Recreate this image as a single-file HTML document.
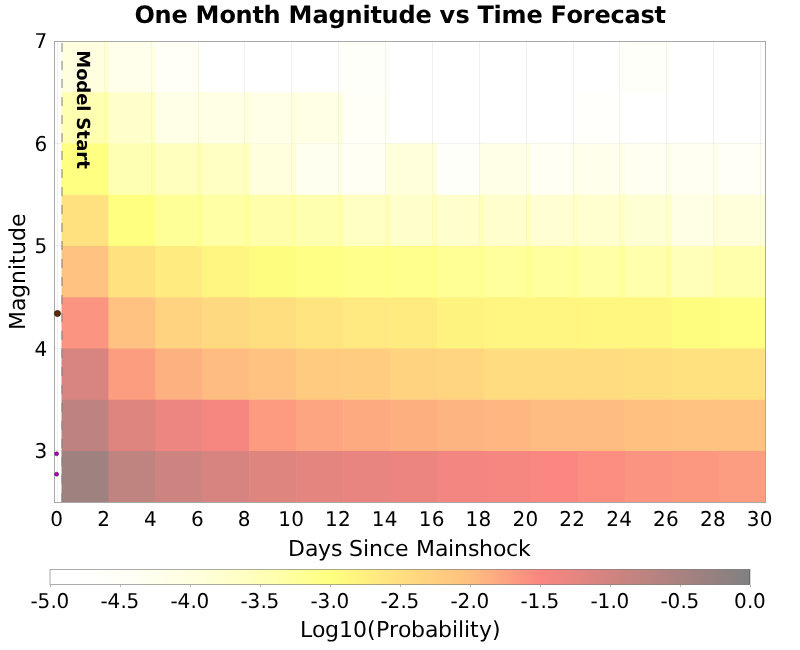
<!DOCTYPE html>
<html lang="en"><head><meta charset="utf-8"><title>One Month Magnitude vs Time Forecast</title>
<style>html,body{margin:0;padding:0;background:#fff}svg{display:block}text{font-family:'DejaVu Sans','Liberation Sans',sans-serif;fill:#000;white-space:pre;text-rendering:geometricPrecision}</style></head><body>
<svg width="800" height="650" viewBox="0 0 800 650">
<rect width="800" height="650" fill="#fff"/>
<g id="heat">
<rect x="61.50" y="41.00" width="47.53" height="51.85" fill="#ffffdf"/>
<rect x="108.43" y="41.00" width="47.53" height="51.85" fill="#ffffeb"/>
<rect x="155.36" y="41.00" width="47.53" height="51.85" fill="#fffff5"/>
<rect x="202.29" y="41.00" width="47.53" height="51.85" fill="#ffffff"/>
<rect x="249.22" y="41.00" width="47.53" height="51.85" fill="#ffffff"/>
<rect x="296.15" y="41.00" width="47.53" height="51.85" fill="#ffffff"/>
<rect x="343.08" y="41.00" width="47.53" height="51.85" fill="#fffff9"/>
<rect x="390.01" y="41.00" width="47.53" height="51.85" fill="#ffffff"/>
<rect x="436.94" y="41.00" width="47.53" height="51.85" fill="#ffffff"/>
<rect x="483.87" y="41.00" width="47.53" height="51.85" fill="#ffffff"/>
<rect x="530.80" y="41.00" width="47.53" height="51.85" fill="#ffffff"/>
<rect x="577.73" y="41.00" width="47.53" height="51.85" fill="#ffffff"/>
<rect x="624.66" y="41.00" width="47.53" height="51.85" fill="#fffffa"/>
<rect x="671.59" y="41.00" width="47.53" height="51.85" fill="#ffffff"/>
<rect x="718.52" y="41.00" width="46.48" height="51.85" fill="#ffffff"/>
<rect x="61.50" y="92.25" width="47.53" height="51.85" fill="#ffffb2"/>
<rect x="108.43" y="92.25" width="47.53" height="51.85" fill="#ffffcc"/>
<rect x="155.36" y="92.25" width="47.53" height="51.85" fill="#ffffe8"/>
<rect x="202.29" y="92.25" width="47.53" height="51.85" fill="#ffffe6"/>
<rect x="249.22" y="92.25" width="47.53" height="51.85" fill="#ffffe8"/>
<rect x="296.15" y="92.25" width="47.53" height="51.85" fill="#ffffe6"/>
<rect x="343.08" y="92.25" width="47.53" height="51.85" fill="#fffff5"/>
<rect x="390.01" y="92.25" width="47.53" height="51.85" fill="#ffffff"/>
<rect x="436.94" y="92.25" width="47.53" height="51.85" fill="#ffffff"/>
<rect x="483.87" y="92.25" width="47.53" height="51.85" fill="#ffffff"/>
<rect x="530.80" y="92.25" width="47.53" height="51.85" fill="#ffffff"/>
<rect x="577.73" y="92.25" width="47.53" height="51.85" fill="#fffffb"/>
<rect x="624.66" y="92.25" width="47.53" height="51.85" fill="#ffffff"/>
<rect x="671.59" y="92.25" width="47.53" height="51.85" fill="#ffffff"/>
<rect x="718.52" y="92.25" width="46.48" height="51.85" fill="#ffffff"/>
<rect x="61.50" y="143.50" width="47.53" height="51.85" fill="#ffff82"/>
<rect x="108.43" y="143.50" width="47.53" height="51.85" fill="#ffffb4"/>
<rect x="155.36" y="143.50" width="47.53" height="51.85" fill="#ffffbe"/>
<rect x="202.29" y="143.50" width="47.53" height="51.85" fill="#ffffc3"/>
<rect x="249.22" y="143.50" width="47.53" height="51.85" fill="#ffffde"/>
<rect x="296.15" y="143.50" width="47.53" height="51.85" fill="#fffff0"/>
<rect x="343.08" y="143.50" width="47.53" height="51.85" fill="#fffff3"/>
<rect x="390.01" y="143.50" width="47.53" height="51.85" fill="#ffffdc"/>
<rect x="436.94" y="143.50" width="47.53" height="51.85" fill="#fffffa"/>
<rect x="483.87" y="143.50" width="47.53" height="51.85" fill="#ffffe7"/>
<rect x="530.80" y="143.50" width="47.53" height="51.85" fill="#fffff4"/>
<rect x="577.73" y="143.50" width="47.53" height="51.85" fill="#ffffeb"/>
<rect x="624.66" y="143.50" width="47.53" height="51.85" fill="#fffff2"/>
<rect x="671.59" y="143.50" width="47.53" height="51.85" fill="#fffff2"/>
<rect x="718.52" y="143.50" width="46.48" height="51.85" fill="#fffff5"/>
<rect x="61.50" y="194.75" width="47.53" height="51.85" fill="#ffe180"/>
<rect x="108.43" y="194.75" width="47.53" height="51.85" fill="#ffff80"/>
<rect x="155.36" y="194.75" width="47.53" height="51.85" fill="#ffff97"/>
<rect x="202.29" y="194.75" width="47.53" height="51.85" fill="#ffffa6"/>
<rect x="249.22" y="194.75" width="47.53" height="51.85" fill="#ffffab"/>
<rect x="296.15" y="194.75" width="47.53" height="51.85" fill="#ffffb0"/>
<rect x="343.08" y="194.75" width="47.53" height="51.85" fill="#ffffc3"/>
<rect x="390.01" y="194.75" width="47.53" height="51.85" fill="#ffffcc"/>
<rect x="436.94" y="194.75" width="47.53" height="51.85" fill="#ffffcd"/>
<rect x="483.87" y="194.75" width="47.53" height="51.85" fill="#ffffcd"/>
<rect x="530.80" y="194.75" width="47.53" height="51.85" fill="#ffffd2"/>
<rect x="577.73" y="194.75" width="47.53" height="51.85" fill="#ffffd0"/>
<rect x="624.66" y="194.75" width="47.53" height="51.85" fill="#ffffd4"/>
<rect x="671.59" y="194.75" width="47.53" height="51.85" fill="#ffffe4"/>
<rect x="718.52" y="194.75" width="46.48" height="51.85" fill="#ffffdc"/>
<rect x="61.50" y="246.00" width="47.53" height="51.85" fill="#ffc280"/>
<rect x="108.43" y="246.00" width="47.53" height="51.85" fill="#ffe280"/>
<rect x="155.36" y="246.00" width="47.53" height="51.85" fill="#ffeb80"/>
<rect x="202.29" y="246.00" width="47.53" height="51.85" fill="#fff580"/>
<rect x="249.22" y="246.00" width="47.53" height="51.85" fill="#fffd80"/>
<rect x="296.15" y="246.00" width="47.53" height="51.85" fill="#ffff85"/>
<rect x="343.08" y="246.00" width="47.53" height="51.85" fill="#ffff8b"/>
<rect x="390.01" y="246.00" width="47.53" height="51.85" fill="#ffff8e"/>
<rect x="436.94" y="246.00" width="47.53" height="51.85" fill="#ffff96"/>
<rect x="483.87" y="246.00" width="47.53" height="51.85" fill="#ffff9b"/>
<rect x="530.80" y="246.00" width="47.53" height="51.85" fill="#ffff9e"/>
<rect x="577.73" y="246.00" width="47.53" height="51.85" fill="#ffffa5"/>
<rect x="624.66" y="246.00" width="47.53" height="51.85" fill="#ffffac"/>
<rect x="671.59" y="246.00" width="47.53" height="51.85" fill="#ffffb9"/>
<rect x="718.52" y="246.00" width="46.48" height="51.85" fill="#ffffac"/>
<rect x="61.50" y="297.25" width="47.53" height="51.85" fill="#fb9480"/>
<rect x="108.43" y="297.25" width="47.53" height="51.85" fill="#ffc280"/>
<rect x="155.36" y="297.25" width="47.53" height="51.85" fill="#ffd380"/>
<rect x="202.29" y="297.25" width="47.53" height="51.85" fill="#ffd980"/>
<rect x="249.22" y="297.25" width="47.53" height="51.85" fill="#ffde80"/>
<rect x="296.15" y="297.25" width="47.53" height="51.85" fill="#ffe480"/>
<rect x="343.08" y="297.25" width="47.53" height="51.85" fill="#ffe980"/>
<rect x="390.01" y="297.25" width="47.53" height="51.85" fill="#ffeb80"/>
<rect x="436.94" y="297.25" width="47.53" height="51.85" fill="#fff380"/>
<rect x="483.87" y="297.25" width="47.53" height="51.85" fill="#fff580"/>
<rect x="530.80" y="297.25" width="47.53" height="51.85" fill="#fff580"/>
<rect x="577.73" y="297.25" width="47.53" height="51.85" fill="#fff780"/>
<rect x="624.66" y="297.25" width="47.53" height="51.85" fill="#fff780"/>
<rect x="671.59" y="297.25" width="47.53" height="51.85" fill="#fffd80"/>
<rect x="718.52" y="297.25" width="46.48" height="51.85" fill="#ffff83"/>
<rect x="61.50" y="348.50" width="47.53" height="51.85" fill="#d88480"/>
<rect x="108.43" y="348.50" width="47.53" height="51.85" fill="#fc9d80"/>
<rect x="155.36" y="348.50" width="47.53" height="51.85" fill="#feb180"/>
<rect x="202.29" y="348.50" width="47.53" height="51.85" fill="#ffbc80"/>
<rect x="249.22" y="348.50" width="47.53" height="51.85" fill="#ffc280"/>
<rect x="296.15" y="348.50" width="47.53" height="51.85" fill="#ffcb80"/>
<rect x="343.08" y="348.50" width="47.53" height="51.85" fill="#ffcd80"/>
<rect x="390.01" y="348.50" width="47.53" height="51.85" fill="#ffd380"/>
<rect x="436.94" y="348.50" width="47.53" height="51.85" fill="#ffd580"/>
<rect x="483.87" y="348.50" width="47.53" height="51.85" fill="#ffdc80"/>
<rect x="530.80" y="348.50" width="47.53" height="51.85" fill="#ffdc80"/>
<rect x="577.73" y="348.50" width="47.53" height="51.85" fill="#ffdc80"/>
<rect x="624.66" y="348.50" width="47.53" height="51.85" fill="#ffde80"/>
<rect x="671.59" y="348.50" width="47.53" height="51.85" fill="#ffe180"/>
<rect x="718.52" y="348.50" width="46.48" height="51.85" fill="#ffe180"/>
<rect x="61.50" y="399.75" width="47.53" height="51.85" fill="#be8380"/>
<rect x="108.43" y="399.75" width="47.53" height="51.85" fill="#de8580"/>
<rect x="155.36" y="399.75" width="47.53" height="51.85" fill="#ed8580"/>
<rect x="202.29" y="399.75" width="47.53" height="51.85" fill="#f68680"/>
<rect x="249.22" y="399.75" width="47.53" height="51.85" fill="#fc9b80"/>
<rect x="296.15" y="399.75" width="47.53" height="51.85" fill="#fda580"/>
<rect x="343.08" y="399.75" width="47.53" height="51.85" fill="#fdaa80"/>
<rect x="390.01" y="399.75" width="47.53" height="51.85" fill="#feaf80"/>
<rect x="436.94" y="399.75" width="47.53" height="51.85" fill="#feb480"/>
<rect x="483.87" y="399.75" width="47.53" height="51.85" fill="#feb780"/>
<rect x="530.80" y="399.75" width="47.53" height="51.85" fill="#ffbc80"/>
<rect x="577.73" y="399.75" width="47.53" height="51.85" fill="#ffbc80"/>
<rect x="624.66" y="399.75" width="47.53" height="51.85" fill="#ffc080"/>
<rect x="671.59" y="399.75" width="47.53" height="51.85" fill="#ffc280"/>
<rect x="718.52" y="399.75" width="46.48" height="51.85" fill="#ffc280"/>
<rect x="61.50" y="451.00" width="47.53" height="51.00" fill="#9f8280"/>
<rect x="108.43" y="451.00" width="47.53" height="51.00" fill="#bf8380"/>
<rect x="155.36" y="451.00" width="47.53" height="51.00" fill="#cd8480"/>
<rect x="202.29" y="451.00" width="47.53" height="51.00" fill="#d78480"/>
<rect x="249.22" y="451.00" width="47.53" height="51.00" fill="#de8580"/>
<rect x="296.15" y="451.00" width="47.53" height="51.00" fill="#e48580"/>
<rect x="343.08" y="451.00" width="47.53" height="51.00" fill="#e88580"/>
<rect x="390.01" y="451.00" width="47.53" height="51.00" fill="#ec8580"/>
<rect x="436.94" y="451.00" width="47.53" height="51.00" fill="#f38680"/>
<rect x="483.87" y="451.00" width="47.53" height="51.00" fill="#f68680"/>
<rect x="530.80" y="451.00" width="47.53" height="51.00" fill="#fa8780"/>
<rect x="577.73" y="451.00" width="47.53" height="51.00" fill="#fb8e80"/>
<rect x="624.66" y="451.00" width="47.53" height="51.00" fill="#fb9480"/>
<rect x="671.59" y="451.00" width="47.53" height="51.00" fill="#fc9880"/>
<rect x="718.52" y="451.00" width="46.48" height="51.00" fill="#fc9c80"/>
<rect x="104.13" y="41.00" width="4.30" height="51.85" fill="#ffffd5"/>
<rect x="151.06" y="41.00" width="4.30" height="51.85" fill="#ffffe5"/>
<rect x="338.78" y="41.00" width="4.30" height="51.85" fill="#fffff9"/>
<rect x="620.36" y="41.00" width="4.30" height="51.85" fill="#fffffa"/>
<rect x="104.13" y="92.25" width="4.30" height="51.85" fill="#ffffa6"/>
<rect x="151.06" y="92.25" width="4.30" height="51.85" fill="#ffffc4"/>
<rect x="197.99" y="92.25" width="4.30" height="51.85" fill="#ffffda"/>
<rect x="244.92" y="92.25" width="4.30" height="51.85" fill="#ffffd9"/>
<rect x="291.85" y="92.25" width="4.30" height="51.85" fill="#ffffda"/>
<rect x="338.78" y="92.25" width="4.30" height="51.85" fill="#ffffe0"/>
<rect x="573.43" y="92.25" width="4.30" height="51.85" fill="#fffffb"/>
<rect x="104.13" y="143.50" width="4.30" height="51.85" fill="#ffff81"/>
<rect x="151.06" y="143.50" width="4.30" height="51.85" fill="#ffffa5"/>
<rect x="197.99" y="143.50" width="4.30" height="51.85" fill="#ffffad"/>
<rect x="244.92" y="143.50" width="4.30" height="51.85" fill="#ffffb8"/>
<rect x="291.85" y="143.50" width="4.30" height="51.85" fill="#ffffd7"/>
<rect x="338.78" y="143.50" width="4.30" height="51.85" fill="#ffffe8"/>
<rect x="385.71" y="143.50" width="4.30" height="51.85" fill="#ffffdb"/>
<rect x="432.64" y="143.50" width="4.30" height="51.85" fill="#ffffda"/>
<rect x="479.57" y="143.50" width="4.30" height="51.85" fill="#ffffe7"/>
<rect x="526.50" y="143.50" width="4.30" height="51.85" fill="#ffffe1"/>
<rect x="573.43" y="143.50" width="4.30" height="51.85" fill="#ffffe6"/>
<rect x="620.36" y="143.50" width="4.30" height="51.85" fill="#ffffe3"/>
<rect x="667.29" y="143.50" width="4.30" height="51.85" fill="#ffffe9"/>
<rect x="714.22" y="143.50" width="4.30" height="51.85" fill="#ffffeb"/>
<rect x="197.99" y="194.75" width="4.30" height="51.85" fill="#ffff8e"/>
<rect x="244.92" y="194.75" width="4.30" height="51.85" fill="#ffff98"/>
<rect x="291.85" y="194.75" width="4.30" height="51.85" fill="#ffff9c"/>
<rect x="338.78" y="194.75" width="4.30" height="51.85" fill="#ffffa3"/>
<rect x="385.71" y="194.75" width="4.30" height="51.85" fill="#ffffb3"/>
<rect x="432.64" y="194.75" width="4.30" height="51.85" fill="#ffffba"/>
<rect x="479.57" y="194.75" width="4.30" height="51.85" fill="#ffffba"/>
<rect x="526.50" y="194.75" width="4.30" height="51.85" fill="#ffffbc"/>
<rect x="573.43" y="194.75" width="4.30" height="51.85" fill="#ffffbf"/>
<rect x="620.36" y="194.75" width="4.30" height="51.85" fill="#ffffbf"/>
<rect x="667.29" y="194.75" width="4.30" height="51.85" fill="#ffffc9"/>
<rect x="714.22" y="194.75" width="4.30" height="51.85" fill="#ffffd1"/>
<rect x="338.78" y="246.00" width="4.30" height="51.85" fill="#ffff83"/>
<rect x="385.71" y="246.00" width="4.30" height="51.85" fill="#ffff86"/>
<rect x="432.64" y="246.00" width="4.30" height="51.85" fill="#ffff88"/>
<rect x="479.57" y="246.00" width="4.30" height="51.85" fill="#ffff8d"/>
<rect x="526.50" y="246.00" width="4.30" height="51.85" fill="#ffff90"/>
<rect x="573.43" y="246.00" width="4.30" height="51.85" fill="#ffff93"/>
<rect x="620.36" y="246.00" width="4.30" height="51.85" fill="#ffff98"/>
<rect x="667.29" y="246.00" width="4.30" height="51.85" fill="#ffff9e"/>
<rect x="714.22" y="246.00" width="4.30" height="51.85" fill="#ffffa4"/>
</g>
<g id="grid" stroke="#000" stroke-width="1" shape-rendering="crispEdges">
<line x1="57.50" y1="41.5" x2="57.50" y2="502.5" stroke-opacity="0.058"/>
<line x1="104.37" y1="41.00" x2="104.37" y2="92.25" stroke-opacity="0.029"/>
<line x1="104.37" y1="92.25" x2="104.37" y2="143.50" stroke-opacity="0.013"/>
<line x1="151.23" y1="41.00" x2="151.23" y2="92.25" stroke-opacity="0.035"/>
<line x1="151.23" y1="92.25" x2="151.23" y2="143.50" stroke-opacity="0.021"/>
<line x1="151.23" y1="143.50" x2="151.23" y2="194.75" stroke-opacity="0.013"/>
<line x1="198.10" y1="41.00" x2="198.10" y2="92.25" stroke-opacity="0.042"/>
<line x1="198.10" y1="92.25" x2="198.10" y2="143.50" stroke-opacity="0.033"/>
<line x1="198.10" y1="143.50" x2="198.10" y2="194.75" stroke-opacity="0.017"/>
<line x1="198.10" y1="194.75" x2="198.10" y2="246.00" stroke-opacity="0.005"/>
<line x1="244.97" y1="41.00" x2="244.97" y2="92.25" stroke-opacity="0.058"/>
<line x1="244.97" y1="92.25" x2="244.97" y2="143.50" stroke-opacity="0.032"/>
<line x1="244.97" y1="143.50" x2="244.97" y2="194.75" stroke-opacity="0.018"/>
<line x1="244.97" y1="194.75" x2="244.97" y2="246.00" stroke-opacity="0.009"/>
<line x1="291.83" y1="41.00" x2="291.83" y2="92.25" stroke-opacity="0.058"/>
<line x1="291.83" y1="92.25" x2="291.83" y2="143.50" stroke-opacity="0.033"/>
<line x1="291.83" y1="143.50" x2="291.83" y2="194.75" stroke-opacity="0.028"/>
<line x1="291.83" y1="194.75" x2="291.83" y2="246.00" stroke-opacity="0.011"/>
<line x1="338.70" y1="41.00" x2="338.70" y2="92.25" stroke-opacity="0.058"/>
<line x1="338.70" y1="92.25" x2="338.70" y2="143.50" stroke-opacity="0.032"/>
<line x1="338.70" y1="143.50" x2="338.70" y2="194.75" stroke-opacity="0.038"/>
<line x1="338.70" y1="194.75" x2="338.70" y2="246.00" stroke-opacity="0.012"/>
<line x1="385.57" y1="41.00" x2="385.57" y2="92.25" stroke-opacity="0.045"/>
<line x1="385.57" y1="92.25" x2="385.57" y2="143.50" stroke-opacity="0.042"/>
<line x1="385.57" y1="143.50" x2="385.57" y2="194.75" stroke-opacity="0.040"/>
<line x1="385.57" y1="194.75" x2="385.57" y2="246.00" stroke-opacity="0.018"/>
<line x1="432.43" y1="41.00" x2="432.43" y2="92.25" stroke-opacity="0.058"/>
<line x1="432.43" y1="92.25" x2="432.43" y2="143.50" stroke-opacity="0.058"/>
<line x1="432.43" y1="143.50" x2="432.43" y2="194.75" stroke-opacity="0.028"/>
<line x1="432.43" y1="194.75" x2="432.43" y2="246.00" stroke-opacity="0.021"/>
<line x1="479.30" y1="41.00" x2="479.30" y2="92.25" stroke-opacity="0.058"/>
<line x1="479.30" y1="92.25" x2="479.30" y2="143.50" stroke-opacity="0.058"/>
<line x1="479.30" y1="143.50" x2="479.30" y2="194.75" stroke-opacity="0.046"/>
<line x1="479.30" y1="194.75" x2="479.30" y2="246.00" stroke-opacity="0.022"/>
<line x1="479.30" y1="246.00" x2="479.30" y2="297.25" stroke-opacity="0.005"/>
<line x1="526.17" y1="41.00" x2="526.17" y2="92.25" stroke-opacity="0.058"/>
<line x1="526.17" y1="92.25" x2="526.17" y2="143.50" stroke-opacity="0.058"/>
<line x1="526.17" y1="143.50" x2="526.17" y2="194.75" stroke-opacity="0.033"/>
<line x1="526.17" y1="194.75" x2="526.17" y2="246.00" stroke-opacity="0.022"/>
<line x1="526.17" y1="246.00" x2="526.17" y2="297.25" stroke-opacity="0.007"/>
<line x1="573.03" y1="41.00" x2="573.03" y2="92.25" stroke-opacity="0.058"/>
<line x1="573.03" y1="92.25" x2="573.03" y2="143.50" stroke-opacity="0.058"/>
<line x1="573.03" y1="143.50" x2="573.03" y2="194.75" stroke-opacity="0.041"/>
<line x1="573.03" y1="194.75" x2="573.03" y2="246.00" stroke-opacity="0.023"/>
<line x1="573.03" y1="246.00" x2="573.03" y2="297.25" stroke-opacity="0.007"/>
<line x1="619.90" y1="41.00" x2="619.90" y2="92.25" stroke-opacity="0.058"/>
<line x1="619.90" y1="92.25" x2="619.90" y2="143.50" stroke-opacity="0.047"/>
<line x1="619.90" y1="143.50" x2="619.90" y2="194.75" stroke-opacity="0.035"/>
<line x1="619.90" y1="194.75" x2="619.90" y2="246.00" stroke-opacity="0.023"/>
<line x1="619.90" y1="246.00" x2="619.90" y2="297.25" stroke-opacity="0.009"/>
<line x1="666.77" y1="41.00" x2="666.77" y2="92.25" stroke-opacity="0.046"/>
<line x1="666.77" y1="92.25" x2="666.77" y2="143.50" stroke-opacity="0.058"/>
<line x1="666.77" y1="143.50" x2="666.77" y2="194.75" stroke-opacity="0.040"/>
<line x1="666.77" y1="194.75" x2="666.77" y2="246.00" stroke-opacity="0.024"/>
<line x1="666.77" y1="246.00" x2="666.77" y2="297.25" stroke-opacity="0.011"/>
<line x1="713.63" y1="41.00" x2="713.63" y2="92.25" stroke-opacity="0.058"/>
<line x1="713.63" y1="92.25" x2="713.63" y2="143.50" stroke-opacity="0.058"/>
<line x1="713.63" y1="143.50" x2="713.63" y2="194.75" stroke-opacity="0.040"/>
<line x1="713.63" y1="194.75" x2="713.63" y2="246.00" stroke-opacity="0.031"/>
<line x1="713.63" y1="246.00" x2="713.63" y2="297.25" stroke-opacity="0.015"/>
<line x1="760.50" y1="41.00" x2="760.50" y2="92.25" stroke-opacity="0.058"/>
<line x1="760.50" y1="92.25" x2="760.50" y2="143.50" stroke-opacity="0.058"/>
<line x1="760.50" y1="143.50" x2="760.50" y2="194.75" stroke-opacity="0.042"/>
<line x1="760.50" y1="194.75" x2="760.50" y2="246.00" stroke-opacity="0.028"/>
<line x1="760.50" y1="246.00" x2="760.50" y2="297.25" stroke-opacity="0.011"/>
<line x1="54.5" y1="450.50" x2="61.5" y2="450.50" stroke-opacity="0.058"/>
<line x1="54.5" y1="348.00" x2="61.5" y2="348.00" stroke-opacity="0.058"/>
<line x1="54.5" y1="245.50" x2="61.5" y2="245.50" stroke-opacity="0.058"/>
<line x1="436.94" y1="245.50" x2="483.87" y2="245.50" stroke-opacity="0.005"/>
<line x1="483.87" y1="245.50" x2="530.80" y2="245.50" stroke-opacity="0.007"/>
<line x1="530.80" y1="245.50" x2="577.73" y2="245.50" stroke-opacity="0.007"/>
<line x1="577.73" y1="245.50" x2="624.66" y2="245.50" stroke-opacity="0.009"/>
<line x1="624.66" y1="245.50" x2="671.59" y2="245.50" stroke-opacity="0.011"/>
<line x1="671.59" y1="245.50" x2="718.52" y2="245.50" stroke-opacity="0.015"/>
<line x1="718.52" y1="245.50" x2="765.00" y2="245.50" stroke-opacity="0.011"/>
<line x1="54.5" y1="143.00" x2="61.5" y2="143.00" stroke-opacity="0.058"/>
<line x1="108.43" y1="143.00" x2="155.36" y2="143.00" stroke-opacity="0.013"/>
<line x1="155.36" y1="143.00" x2="202.29" y2="143.00" stroke-opacity="0.017"/>
<line x1="202.29" y1="143.00" x2="249.22" y2="143.00" stroke-opacity="0.018"/>
<line x1="249.22" y1="143.00" x2="296.15" y2="143.00" stroke-opacity="0.028"/>
<line x1="296.15" y1="143.00" x2="343.08" y2="143.00" stroke-opacity="0.032"/>
<line x1="343.08" y1="143.00" x2="390.01" y2="143.00" stroke-opacity="0.040"/>
<line x1="390.01" y1="143.00" x2="436.94" y2="143.00" stroke-opacity="0.028"/>
<line x1="436.94" y1="143.00" x2="483.87" y2="143.00" stroke-opacity="0.046"/>
<line x1="483.87" y1="143.00" x2="530.80" y2="143.00" stroke-opacity="0.033"/>
<line x1="530.80" y1="143.00" x2="577.73" y2="143.00" stroke-opacity="0.041"/>
<line x1="577.73" y1="143.00" x2="624.66" y2="143.00" stroke-opacity="0.035"/>
<line x1="624.66" y1="143.00" x2="671.59" y2="143.00" stroke-opacity="0.040"/>
<line x1="671.59" y1="143.00" x2="718.52" y2="143.00" stroke-opacity="0.040"/>
<line x1="718.52" y1="143.00" x2="765.00" y2="143.00" stroke-opacity="0.042"/>
</g>
<line x1="62" y1="43.1" x2="62" y2="502.5" stroke="#808080" stroke-opacity="0.5" stroke-width="2" stroke-dasharray="9 9"/>
<text transform="translate(76.80 50.30) rotate(90)" x="0 18 30 43 55 61 67 80 89 101 110" y="0" font-size="18" font-weight="bold">Model Start</text>
<rect x="54.5" y="41.5" width="711.0" height="461.0" fill="none" stroke="#a8a8a8" stroke-width="1" shape-rendering="crispEdges"/>
<defs><radialGradient id="dot"><stop offset="0" stop-color="#c800d0"/><stop offset="1" stop-color="#8a0090"/></radialGradient></defs>
<circle cx="57.5" cy="313.5" r="3.05" fill="#5c2c04" stroke="#241000" stroke-width="0.7"/>
<circle cx="56.6" cy="453.8" r="2.0" fill="url(#dot)" stroke="#5a005e" stroke-width="0.5"/>
<circle cx="56.6" cy="474.2" r="2.0" fill="url(#dot)" stroke="#5a005e" stroke-width="0.5"/>
<text transform="translate(400.00 23.00)" x="-265.5 -245.5 -228.5 -212.5 -204.5 -180.5 -164.5 -147.5 -136.5 -119.5 -111.5 -87.5 -71.5 -54.5 -37.5 -29.5 -18.5 -1.5 15.5 31.5 39.5 55.5 69.5 77.5 93.5 101.5 126.5 142.5 150.5 166.5 182.5 194.5 210.5 224.5 240.5 254.5" y="0" font-size="24" font-weight="bold">One Month Magnitude vs Time Forecast</text>
<text transform="translate(47.50 48.30) scale(1 1.020)" x="-13" y="0" font-size="20">7</text>
<text transform="translate(47.50 150.80) scale(1 1.020)" x="-13" y="0" font-size="20">6</text>
<text transform="translate(47.50 253.30) scale(1 1.020)" x="-13" y="0" font-size="20">5</text>
<text transform="translate(47.50 355.80) scale(1 1.020)" x="-13" y="0" font-size="20">4</text>
<text transform="translate(47.50 458.30) scale(1 1.020)" x="-13" y="0" font-size="20">3</text>
<text transform="translate(24.80 271.50) rotate(-90)" x="-58.5 -39.5 -26.5 -12.5 1.5 7.5 16.5 30.5 44.5" y="0" font-size="22">Magnitude</text>
<text transform="translate(56.80 526.30) scale(1 1.020)" x="-6.5" y="0" font-size="20">0</text>
<text transform="translate(103.67 526.30) scale(1 1.020)" x="-6.5" y="0" font-size="20">2</text>
<text transform="translate(150.53 526.30) scale(1 1.020)" x="-6.5" y="0" font-size="20">4</text>
<text transform="translate(197.40 526.30) scale(1 1.020)" x="-6.5" y="0" font-size="20">6</text>
<text transform="translate(244.27 526.30) scale(1 1.020)" x="-6.5" y="0" font-size="20">8</text>
<text transform="translate(291.13 526.30) scale(1 1.020)" x="-13 0" y="0" font-size="20">10</text>
<text transform="translate(338.00 526.30) scale(1 1.020)" x="-13 0" y="0" font-size="20">12</text>
<text transform="translate(384.87 526.30) scale(1 1.020)" x="-13 0" y="0" font-size="20">14</text>
<text transform="translate(431.73 526.30) scale(1 1.020)" x="-13 0" y="0" font-size="20">16</text>
<text transform="translate(478.60 526.30) scale(1 1.020)" x="-13 0" y="0" font-size="20">18</text>
<text transform="translate(525.47 526.30) scale(1 1.020)" x="-13 0" y="0" font-size="20">20</text>
<text transform="translate(572.33 526.30) scale(1 1.020)" x="-13 0" y="0" font-size="20">22</text>
<text transform="translate(619.20 526.30) scale(1 1.020)" x="-13 0" y="0" font-size="20">24</text>
<text transform="translate(666.07 526.30) scale(1 1.020)" x="-13 0" y="0" font-size="20">26</text>
<text transform="translate(712.93 526.30) scale(1 1.020)" x="-13 0" y="0" font-size="20">28</text>
<text transform="translate(759.80 526.30) scale(1 1.020)" x="-13 0" y="0" font-size="20">30</text>
<text transform="translate(409.50 555.80)" x="-121.5 -104.5 -91.5 -78.5 -67.5 -60.5 -46.5 -40.5 -26.5 -14.5 -0.5 6.5 25.5 38.5 44.5 58.5 69.5 83.5 96.5 108.5" y="0" font-size="22">Days Since Mainshock</text>
<defs><linearGradient id="cpt" x1="0" x2="1" y1="0" y2="0">
<stop offset="0.0000" stop-color="#ffffff"/>
<stop offset="0.0200" stop-color="#ffffff"/>
<stop offset="0.0400" stop-color="#fffffe"/>
<stop offset="0.0600" stop-color="#fffffc"/>
<stop offset="0.0800" stop-color="#fffffa"/>
<stop offset="0.1000" stop-color="#fffff7"/>
<stop offset="0.1200" stop-color="#fffff4"/>
<stop offset="0.1400" stop-color="#ffffef"/>
<stop offset="0.1600" stop-color="#ffffeb"/>
<stop offset="0.1800" stop-color="#ffffe5"/>
<stop offset="0.2000" stop-color="#ffffdf"/>
<stop offset="0.2200" stop-color="#ffffd9"/>
<stop offset="0.2400" stop-color="#ffffd1"/>
<stop offset="0.2600" stop-color="#ffffc9"/>
<stop offset="0.2800" stop-color="#ffffc1"/>
<stop offset="0.3000" stop-color="#ffffb8"/>
<stop offset="0.3200" stop-color="#ffffae"/>
<stop offset="0.3400" stop-color="#ffffa3"/>
<stop offset="0.3600" stop-color="#ffff98"/>
<stop offset="0.3800" stop-color="#ffff8c"/>
<stop offset="0.4000" stop-color="#ffff80"/>
<stop offset="0.6000" stop-color="#ffbf80"/>
<stop offset="0.7000" stop-color="#fa8680"/>
<stop offset="1.0000" stop-color="#808080"/>
</linearGradient></defs>
<rect x="50" y="569.5" width="700" height="15" fill="url(#cpt)" stroke="#000" stroke-opacity="0.33" stroke-width="1"/>
<g stroke="#b4b4b4" stroke-width="1" shape-rendering="crispEdges">
<line x1="50.5" y1="585" x2="50.5" y2="587"/>
<line x1="120.5" y1="585" x2="120.5" y2="587"/>
<line x1="190.5" y1="585" x2="190.5" y2="587"/>
<line x1="260.5" y1="585" x2="260.5" y2="587"/>
<line x1="330.5" y1="585" x2="330.5" y2="587"/>
<line x1="400.5" y1="585" x2="400.5" y2="587"/>
<line x1="470.5" y1="585" x2="470.5" y2="587"/>
<line x1="540.5" y1="585" x2="540.5" y2="587"/>
<line x1="610.5" y1="585" x2="610.5" y2="587"/>
<line x1="680.5" y1="585" x2="680.5" y2="587"/>
<line x1="750.5" y1="585" x2="750.5" y2="587"/>
</g>
<text transform="translate(50.00 608.00) scale(1 1.020)" x="-19.5 -12.5 0.5 6.5" y="0" font-size="20">-5.0</text>
<text transform="translate(120.00 608.00) scale(1 1.020)" x="-19.5 -12.5 0.5 6.5" y="0" font-size="20">-4.5</text>
<text transform="translate(190.00 608.00) scale(1 1.020)" x="-19.5 -12.5 0.5 6.5" y="0" font-size="20">-4.0</text>
<text transform="translate(260.00 608.00) scale(1 1.020)" x="-19.5 -12.5 0.5 6.5" y="0" font-size="20">-3.5</text>
<text transform="translate(330.00 608.00) scale(1 1.020)" x="-19.5 -12.5 0.5 6.5" y="0" font-size="20">-3.0</text>
<text transform="translate(400.00 608.00) scale(1 1.020)" x="-19.5 -12.5 0.5 6.5" y="0" font-size="20">-2.5</text>
<text transform="translate(470.00 608.00) scale(1 1.020)" x="-19.5 -12.5 0.5 6.5" y="0" font-size="20">-2.0</text>
<text transform="translate(540.00 608.00) scale(1 1.020)" x="-19.5 -12.5 0.5 6.5" y="0" font-size="20">-1.5</text>
<text transform="translate(610.00 608.00) scale(1 1.020)" x="-19.5 -12.5 0.5 6.5" y="0" font-size="20">-1.0</text>
<text transform="translate(680.00 608.00) scale(1 1.020)" x="-19.5 -12.5 0.5 6.5" y="0" font-size="20">-0.5</text>
<text transform="translate(750.00 608.00) scale(1 1.020)" x="-16 -3 3" y="0" font-size="20">0.0</text>
<text transform="translate(400.50 637.00)" x="-100.5 -88.5 -75.5 -61.5 -47.5 -33.5 -24.5 -11.5 -2.5 10.5 24.5 37.5 51.5 57.5 63.5 69.5 78.5 91.5" y="0" font-size="22">Log10(Probability)</text>
</svg></body></html>
